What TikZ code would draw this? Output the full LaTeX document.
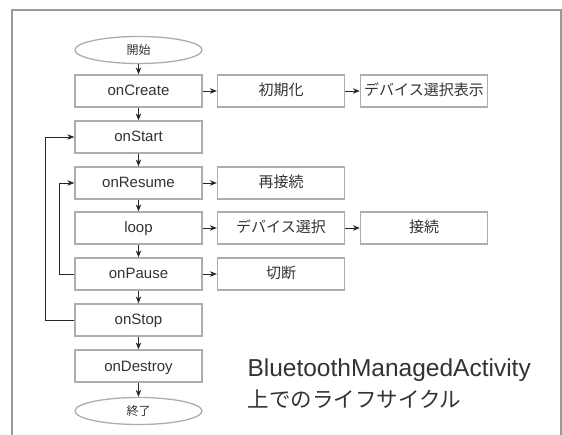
\documentclass[tikz,border=0pt]{standalone}
\usepackage{fontspec}
\setmainfont{Liberation Sans}
\newfontfamily\jpfont{Noto Sans CJK JP}
\usepackage{tikz}
\usetikzlibrary{shapes,arrows.meta,positioning,calc}

\begin{document}
\begin{tikzpicture}[
  x=1pt, y=-1pt,
  stage/.style={draw=black!32, line width=1.3pt, fill=white, minimum width=127pt, minimum height=32pt, inner sep=0pt, text height=12pt, text depth=2pt, text=black!80, font=\fontsize{15}{18}\selectfont},
  terminal/.style={ellipse, draw=black!32, line width=1.3pt, fill=white, minimum width=127pt, minimum height=27pt, inner sep=0pt, text=black!80, font=\jpfont\fontsize{12}{14}\selectfont},
  arrow/.style={-{Stealth[length=7pt,width=5.5pt]}, line width=0.9pt, black!85}
]
  \useasboundingbox (0,0) rectangle (562,435);

  % Frame
  \draw[black!40, line width=2pt] (12,445) -- (12,10) -- (561,10) -- (561,445);

  % Main column
  \node[terminal] (begin) at (138.5,50) {開始};
  \foreach \n/\y/\t in {create/91/onCreate, onstart/137/onStart, resume/183/onResume, loop/228/loop, pause/274/onPause, stop/320/onStop, destroy/366/onDestroy} {
    \node[stage] (\n) at (138.5,\y) {\t};
  }
  \node[terminal] (finish) at (138.5,411) {終了};

  % Side tasks
  \node[stage] (init) at (281,91) {\jpfont 初期化};
  \node[stage] (showlist) at (424,91) {\jpfont デバイス選択表示};
  \node[stage] (reconnect) at (281,183) {\jpfont 再接続};
  \node[stage] (choose) at (281,228) {\jpfont デバイス選択};
  \node[stage] (connect) at (424,228) {\jpfont 接続};
  \node[stage] (cut) at (281,274) {\jpfont 切断};

  % Flow down
  \foreach \a/\b in {begin/create, create/onstart, onstart/resume, resume/loop, loop/pause, pause/stop, stop/destroy, destroy/finish} {
    \draw[arrow] (\a) -- (\b);
  }

  % Flow right
  \foreach \a/\b in {create/init, init/showlist, resume/reconnect, loop/choose, choose/connect, pause/cut} {
    \draw[arrow] (\a) -- (\b);
  }

  % Loops back
  \draw[arrow] (stop.west) -- ++(-29,0) |- (onstart.west);
  \draw[arrow] (pause.west) -- ++(-15,0) |- (resume.west);

  % Caption
  \node[anchor=west, align=left, text=black!80] (caption) at (244,384)
    {{\fontsize{24.5}{28}\selectfont BluetoothManagedActivity}\\[7pt]{\jpfont\fontsize{21.5}{28}\selectfont 上でのライフサイクル}};
\end{tikzpicture}
\end{document}
